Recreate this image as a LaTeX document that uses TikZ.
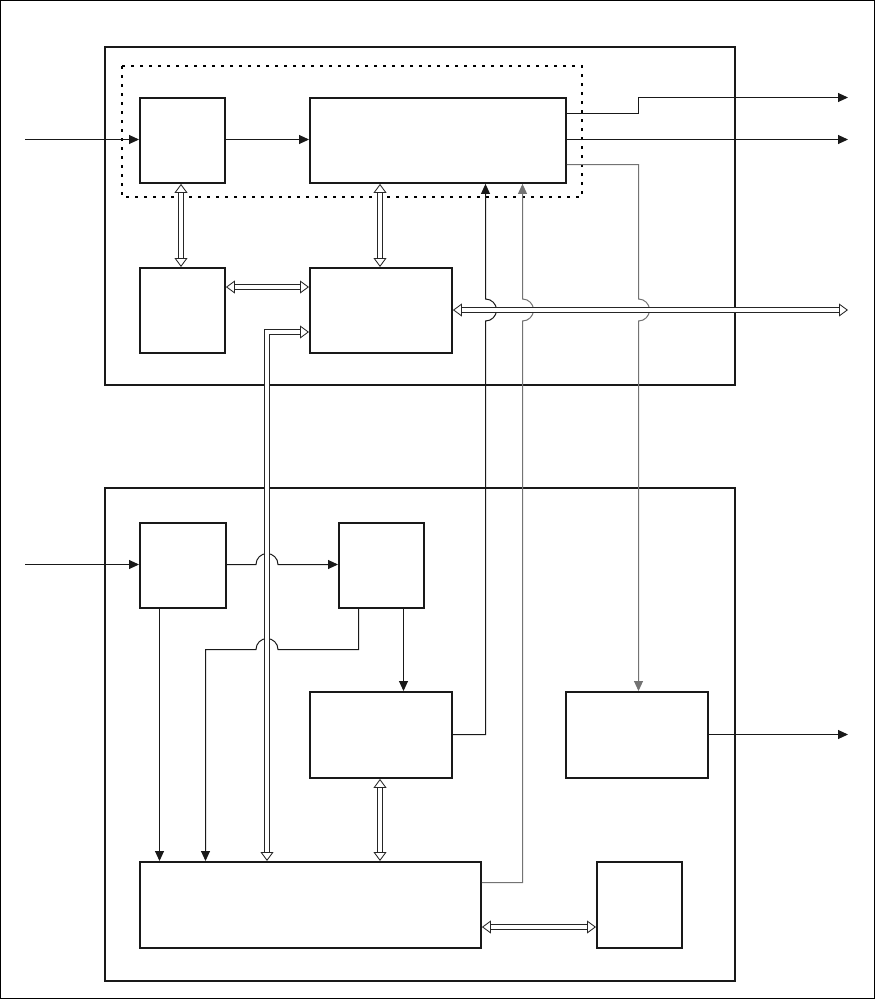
\documentclass[tikz,border=0pt]{standalone}
\usetikzlibrary{arrows.meta,calc}
\begin{document}
\begin{tikzpicture}[x=1pt,y=-1pt,
  blk/.style={draw=black!90,line width=1.9pt,inner sep=0pt,anchor=north west,fill=white},
  frame/.style={draw=black!90,line width=1.2pt},
  conn/.style={draw=black!90,line width=1pt},
  gconn/.style={draw=black!55,line width=1pt},
  tip/.style={-{Triangle[length=10pt,width=9pt]}},
  dbl/.style={draw=black!85,line width=0.85pt,double=white,double distance=4.2pt,
    {Triangle[open,length=9pt,width=13pt,fill=white]}-{Triangle[open,length=9pt,width=13pt,fill=white]}},
  dotbox/.style={draw=black,line width=2.8pt,dash pattern=on 2.8pt off 6.2pt}
]
\useasboundingbox (0,0) rectangle (875,999);
\draw[line width=1pt] (0.5,0.5) rectangle (874.5,998.5);
% frames
\draw[frame] (105,47) rectangle (735,385);
\draw[frame] (105,488) rectangle (735,981);
\draw[dotbox] (122,66) rectangle (582,197);
% blocks
\node[blk,minimum width=85pt,minimum height=85pt] (A) at (139,97) {};
\node[blk,minimum width=256pt,minimum height=85pt] (B) at (309,97) {};
\node[blk,minimum width=85pt,minimum height=85pt] (C) at (139,267) {};
\node[blk,minimum width=142pt,minimum height=85pt] (D) at (309,267) {};
\node[blk,minimum width=86pt,minimum height=85pt] (E) at (139,522) {};
\node[blk,minimum width=85pt,minimum height=85pt] (F) at (338,522) {};
\node[blk,minimum width=142pt,minimum height=86pt] (G) at (309,691) {};
\node[blk,minimum width=142pt,minimum height=86pt] (H) at (565,691) {};
\node[blk,minimum width=341pt,minimum height=86pt] (I) at (139,861) {};
\node[blk,minimum width=85pt,minimum height=86pt] (J) at (596,861) {};
% free ends
\coordinate (in1) at (25,139.5);
\coordinate (in2) at (25,564.5);
\coordinate (out1) at (848,97.5);
\coordinate (out2) at (848,139.5);
\coordinate (out3) at (848,310);
\coordinate (out4) at (848,734.5);
% simple connectors
\draw[conn,tip] (in1) -- (A.west |- in1);
\draw[conn,tip] (A.east |- in1) -- (B.west |- in1);
\draw[conn,tip] (B.east |- 0,113.5) -- (638.5,113.5) -- (638.5,97.5) -- (out1);
\draw[conn,tip] (B.east |- out2) -- (out2);
\draw[gconn,tip] (B.east |- 0,164.5) -- (638.5,164.5) -- (638.5,299)
   arc[start angle=-90,end angle=90,radius=11] -- (H.north -| 638.5,0);
\draw[conn,tip] (G.east |- 0,734.5) -- (485.5,734.5) -- (485.5,321)
   arc[start angle=90,end angle=-90,radius=11] -- (B.south -| 485.5,0);
\draw[gconn,tip] (I.east |- 0,882.5) -- (522.5,882.5) -- (522.5,321)
   arc[start angle=90,end angle=-90,radius=11] -- (B.south -| 522.5,0);
\draw[conn,tip] (H.east |- out4) -- (out4);
\draw[conn,tip] (in2) -- (E.west |- in2);
\draw[conn,tip] (E.east |- in2) -- (256,564.5)
   arc[start angle=180,end angle=360,radius=11] -- (F.west |- in2);
\draw[conn,tip] (F.south -| 358.5,0) -- (358.5,649.5) -- (278,649.5)
   arc[start angle=0,end angle=-180,radius=11] -- (205.5,649.5) -- (I.north -| 205.5,0);
\draw[conn,tip] (F.south -| 403.5,0) -- (G.north -| 403.5,0);
\draw[conn,tip] (E.south -| 159.5,0) -- (I.north -| 159.5,0);
% double connectors
\draw[dbl] (A.south -| 181,0) -- (C.north -| 181,0);
\draw[dbl] (B.south -| 380,0) -- (D.north -| 380,0);
\draw[dbl] (C.east |- 0,287) -- (D.west |- 0,287);
\draw[dbl] (D.east |- out3) -- (out3);
\draw[dbl] (I.north -| 267,0) -- (267,332) -- (D.west |- 0,332);
\draw[dbl] (G.south -| 380,0) -- (I.north -| 380,0);
\draw[dbl] (I.east |- 0,927) -- (J.west |- 0,927);
\end{tikzpicture}
\end{document}
